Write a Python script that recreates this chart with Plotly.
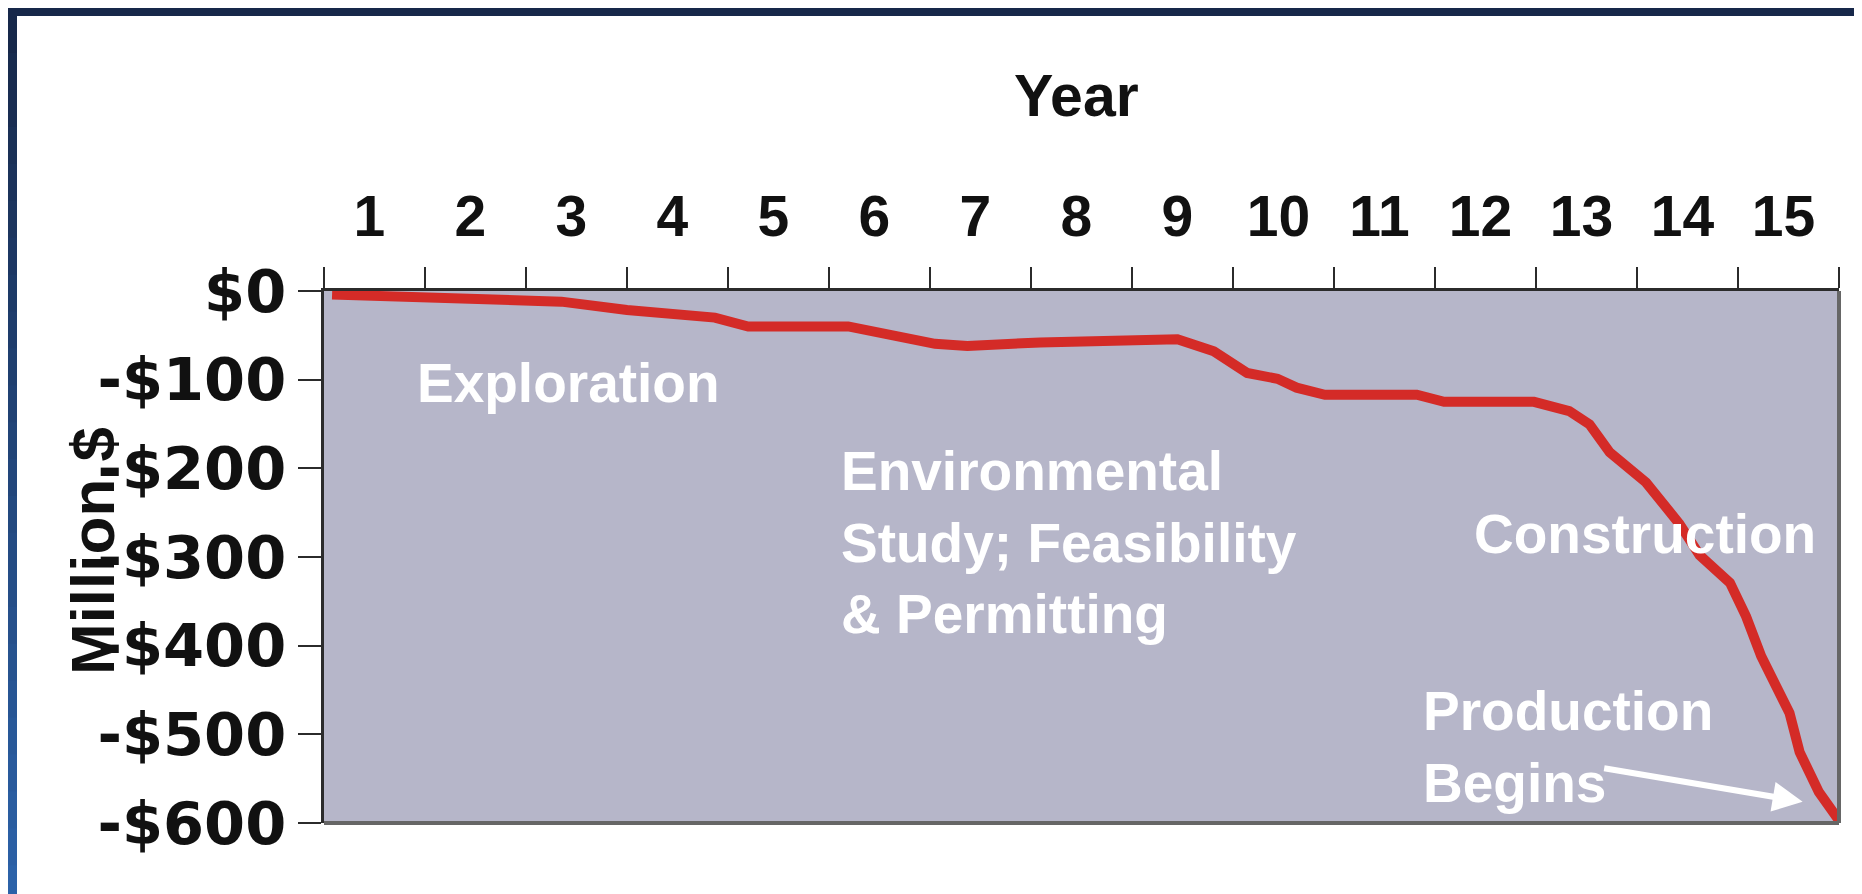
import plotly.graph_objects as go

# ---------------- data ----------------
year_labels = [str(i) for i in range(1, 16)]
year_label_pos = [i - 0.55 for i in range(1, 16)]
year_bounds = list(range(0, 16))

x_years = [0.08, 0.99, 2.0, 2.35, 3.0, 3.87, 4.2, 4.98, 5.19, 6.05, 6.37, 7.09,
           8.45, 8.81, 9.14, 9.44, 9.63, 9.91, 10.82, 11.09, 11.98, 12.33, 12.53,
           12.73, 13.09, 13.42, 13.62, 13.92, 14.08, 14.23, 14.51, 14.61, 14.74,
           14.80, 15.0]
cum_cost = [-4, -6.5, -10, -12, -21.5, -30, -40, -39.5, -40, -59.6, -62, -58,
            -54.4, -68, -92.5, -99, -109, -117, -117, -125, -125, -135.5, -150.5,
            -182, -216, -262.6, -298, -329, -367, -412, -476, -520, -548,
            -565, -597]

y_tickvals = [0, -100, -200, -300, -400, -500, -600]
y_ticktext = ["$0", "-$100", "-$200", "-$300", "-$400", "-$500", "-$600"]

phase_labels = ["Exploration",
                "Environmental<br>Study; Feasibility<br>& Permitting",
                "Construction",
                "Production<br>Begins"]
phase_x = [2.42, 5.1, 13.08, 10.86]
phase_y = [-104, -284, -274, -514]
phase_anchor = ["center", "left", "center", "left"]

arrow_tail = (12.66, -538)
arrow_tip = (14.64, -576)

# ---------------- layout geometry ----------------
W, H = 1862, 894
ML, MR, MT, MB = 316, 31, 283, 79
PW, PH = W - ML - MR, H - MT - MB

def px(xp):
    return (xp - ML) / PW

def py(yp):
    return (H - MB - yp) / PH

FONT = "Liberation Sans, Arial, Helvetica, sans-serif"
WIDE = "DejaVu Sans, Verdana, sans-serif"
DARK = "#2b2b2b"

fig = go.Figure()
fig.add_trace(go.Scatter(x=x_years, y=cum_cost, mode="lines",
                         line=dict(color="#d42b27", width=10),
                         hoverinfo="skip", showlegend=False))

annotations = []
for t, x, y, a in zip(phase_labels, phase_x, phase_y, phase_anchor):
    annotations.append(dict(text=t, x=x, y=y, xref="x", yref="y",
                            xanchor=a, yanchor="middle", align="left",
                            showarrow=False,
                            font=dict(family=FONT, size=55, color="white",
                                      weight="bold")))
annotations.append(dict(text="", x=arrow_tip[0], y=arrow_tip[1],
                        ax=arrow_tail[0], ay=arrow_tail[1],
                        xref="x", yref="y", axref="x", ayref="y",
                        showarrow=True, arrowhead=2, arrowsize=1.0,
                        arrowwidth=6, arrowcolor="white"))
annotations.append(dict(text="Year", x=0.497, y=py(88), xref="paper", yref="paper",
                        xanchor="center", yanchor="middle", showarrow=False,
                        font=dict(family=FONT, size=59, color="#111111",
                                  weight="bold")))
annotations.append(dict(text="Million $", x=px(84), y=py(543), xref="paper",
                        yref="paper", xanchor="center", yanchor="middle",
                        textangle=-90, showarrow=False,
                        font=dict(family=FONT, size=62, color="#111111",
                                  weight="bold")))

shapes = []
# plot border (bottom and right, grey)
shapes.append(dict(type="line", xref="x domain", yref="y domain",
                   x0=0, x1=1, y0=0, y1=0, line=dict(color="#666666", width=4)))
shapes.append(dict(type="line", xref="x domain", yref="y domain",
                   x0=1, x1=1, y0=0, y1=1, line=dict(color="#666666", width=4)))
# slide frame: top navy band
shapes.append(dict(type="rect", xref="paper", yref="paper", layer="above",
                   x0=px(0), x1=px(W), y0=py(8), y1=py(0),
                   fillcolor="#17284a", line=dict(width=0)))
# left band, navy -> blue gradient
n = 24
c0 = (23, 40, 74)
c1 = (44, 98, 168)
for i in range(n):
    f = i / (n - 1)
    c = tuple(int(round(c0[k] + (c1[k] - c0[k]) * f)) for k in range(3))
    y0p = 8 + (H - 8) * i / n
    y1p = 8 + (H - 8) * (i + 1) / n
    shapes.append(dict(type="rect", xref="paper", yref="paper", layer="above",
                       x0=px(0), x1=px(9), y0=py(y1p + 1), y1=py(y0p),
                       fillcolor="rgb(%d,%d,%d)" % c, line=dict(width=0)))
# pale right edge
shapes.append(dict(type="rect", xref="paper", yref="paper", layer="above",
                   x0=px(1853), x1=px(W), y0=py(H), y1=py(8),
                   fillcolor="#e3eaf3", line=dict(width=0)))

fig.update_layout(
    width=W, height=H,
    margin=dict(l=ML, r=MR, t=MT, b=MB, pad=0),
    paper_bgcolor="#ffffff",
    plot_bgcolor="#b6b6c9",
    showlegend=False,
    annotations=annotations,
    shapes=shapes,
    xaxis=dict(range=[0, 15], side="top", showline=True, linecolor=DARK,
               linewidth=3, showgrid=False, zeroline=False, fixedrange=True,
               tickmode="array", tickvals=year_label_pos, ticktext=year_labels,
               ticks="outside", ticklen=21, tickcolor="rgba(0,0,0,0)",
               ticklabelstandoff=8,
               tickfont=dict(family=FONT, size=57, color="#111111", weight="bold"),
               minor=dict(tickmode="array", tickvals=year_bounds, ticks="outside",
                          ticklen=21, tickwidth=2, tickcolor=DARK, showgrid=False)),
    yaxis=dict(range=[-600, 0], showline=True, linecolor=DARK, linewidth=3,
               showgrid=False, zeroline=False, fixedrange=True,
               tickmode="array", tickvals=y_tickvals, ticktext=y_ticktext,
               ticks="outside", ticklen=23, tickwidth=2, tickcolor=DARK,
               ticklabelstandoff=0,
               tickfont=dict(family=WIDE, size=59, color="#111111", weight="bold")),
)

fig.write_html("out.html")
